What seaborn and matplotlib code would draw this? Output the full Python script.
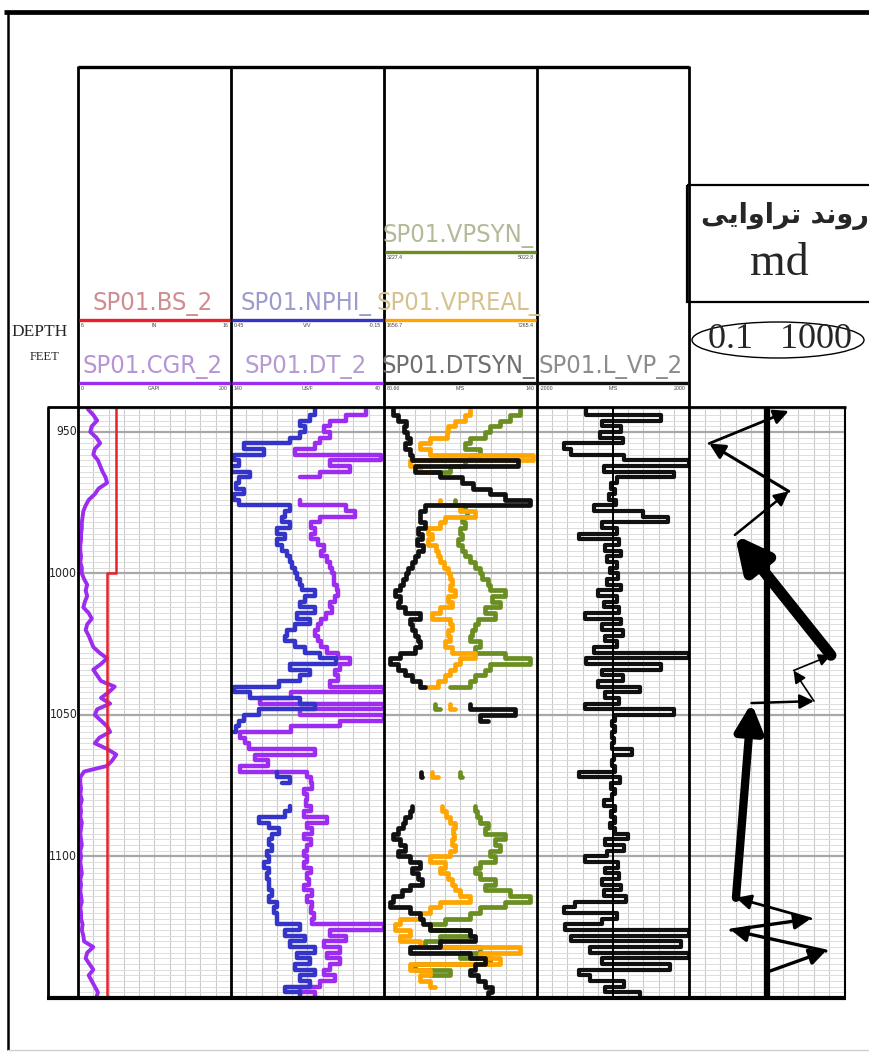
import os
import numpy as np
import pandas as pd
import matplotlib
matplotlib.use("Agg")
import matplotlib.pyplot as plt
import seaborn as sns
from matplotlib.patches import Ellipse, Rectangle
from matplotlib import font_manager as fm

sns.set_style("white")
plt.rcParams['font.family'] = ['Liberation Sans', 'DejaVu Sans']

# ---------------- data ----------------
depth = np.arange(942, 1151, 2)          # sample depths, feet
nan = np.nan

cgr = [13, 20, 25, 18, 16, 24, 29, 22, 20, 26, 29, 32,
       36, 38, 27, 22, 14, 10, 7, 6, 5, 5, 4, 4,
       3, 3, 4, 3, 5, 5, 8, 12, 10, 12, 9, 7,
       14, 18, 12, 10, 14, 17, 20, 28, 38, 30, 20, 25,
       30, 48, 40, 30, 42, 25, 22, 30, 38, 42, 28, 22,
       38, 50, 45, 38, 8, 3, 3,
       4, 3, 5, 3, 4, 3, 5, 4, 3, 4, 5, 3, 4, 3, 4, 5, 3, 4, 3, 4, 5, 3, 4, 4, 6, 5, 7,
       8, 20, 12, 10, 15, 20, 14, 18, 22, 26, 24]

bs_depth = [941.2, 1000, 1000, 1150]
bs = [8.5, 8.5, 7.875, 7.875]

nphi = [0.12, 0.14, 0.18, 0.16, 0.18, 0.22, 0.40, 0.32, 0.44, 0.42, 0.45, 0.375,
        0.42, 0.43, 0.40, 0.44, 0.42, 0.22, 0.24, 0.25, 0.22, 0.27, 0.24, 0.27,
        0.25, 0.23, 0.22, 0.21, 0.20, 0.19, 0.18, 0.17, 0.12, 0.16, 0.18, 0.12,
        0.19, 0.14, 0.20, 0.23, 0.24, 0.20, 0.16, 0.10, 0.04, 0.22, 0.14, 0.18,
        0.26, 0.44, 0.375, 0.18, 0.12, 0.34, 0.40, 0.42, 0.43, 0.44, nan, nan,
        nan, nan, nan, nan, 0.27, 0.22, 0.25, nan, nan, nan, 0.22, 0.24,
        0.34, 0.30, 0.26, 0.29, 0.30, 0.29, 0.31, 0.30, 0.32, 0.30, 0.31, 0.30,
        0.30, 0.29, 0.30, 0.27, 0.28, 0.27, 0.27, 0.18, 0.24, 0.16, 0.22, 0.12,
        0.19, 0.14, 0.20, 0.12, 0.18, 0.14, 0.24, 0.18, 0.12]

dt = [52, 65, 75, 79, 75, 82, 85, 98, 42, 75, 62, 82,
      95, nan, nan, nan, 95, 65, 59, 82, 88, 85, 88, 83,
      79, 81, 77, 75, 74, 73, 73, 71, 70, 72, 75, 74,
      78, 81, 83, 85, 83, 81, 77, 70, 62, 69, 72, 70,
      75, 40, 101, 121, 40, 95, 40, 69, 101, 134, 131, 128,
      85, 124, 116, 134, 90, 88, 87, 92, 90, 91, 88, 92,
      77, 90, 87, 92, 88, 90, 92, 90, 92, 88, 90, 89,
      92, 87, 90, 87, 88, 86, 87, 40, 75, 65, 79, 69,
      77, 69, 75, 79, 72, 82, 95, 85, 82]

dtsyn = [84.2, 86.1, 89.2, 88.4, 89.6, 90.7, 88.8, 90.7, 91.5, 132.6, 92.7, 102.4,
         110.9, 115.2, 121.8, 127.6, 137.3, 96.6, 94.6, 94.6, 96.6, 93.8, 95.4, 93.5,
         95.8, 93.8, 92.7, 91.5, 90.0, 89.2, 88.0, 86.9, 84.9, 86.9, 86.1, 88.8,
         94.6, 90.7, 91.5, 92.7, 93.8, 94.6, 92.7, 86.9, 83.0, 86.1, 88.8, 91.5,
         94.6, 96.6, nan, nan, 114.0, 131.5, 118.0, 121.0, nan, nan, nan, nan,
         nan, nan, nan, nan, 95.0, 95.4, nan, nan, nan, nan, 91.5, 90.7,
         88.8, 88.0, 86.1, 84.2, 86.9, 88.8, 86.1, 90.7, 94.6, 91.5, 93.8, 95.4,
         90.7, 87.6, 84.2, 83.0, 90.7, 94.6, 95.8, 98.5, 114.0, 116.0, 102.4, 90.7,
         114.0, 119.8, 116.0, 114.0, 117.1, 119.8, 122.5, 121.0, 114.0]

vpreal = [4809, 4626, 4259, 4003, 3966, 3343, 2976, 3343, 7119, 2610, 2976, 3343,
          nan, nan, nan, nan, 3710, 4443, 4993, 3893, 3710, 3270, 3416, 3270,
          3563, 3636, 3710, 3856, 4003, 4076, 4150, 4076, 4259, 4003, 4150, 3710,
          3416, 4076, 4150, 4003, 4076, 3893, 4150, 4993, 4443, 4259, 4076, 3893,
          3636, 2976, nan, nan, 4076, 4259, nan, nan, nan, nan, nan, nan,
          nan, nan, nan, nan, 3416, 3636, nan, nan, nan, nan, 3783, 3930,
          4076, 4259, 4186, 4223, 4150, 4259, 4076, 3343, 3893, 3710, 4003, 4150,
          4259, 4443, 4809, 3710, 3343, 2976, 2243, 2060, 2610, 2243, 2976, 6642,
          5176, 5909, 2610, 3343, 2976, 3343, 3526, nan, nan]

vpsyn = [4823, 4706, 4589, 4471, 4413, 4237, 4178, 4354, 4237, 4178, 4002, 3767,
         nan, nan, nan, nan, 4061, 4178, 4201, 4143, 4178, 4119, 4143, 4096,
         4143, 4178, 4237, 4295, 4354, 4377, 4448, 4471, 4647, 4495, 4589, 4413,
         4530, 4330, 4295, 4260, 4237, 4354, 4295, 4647, 4941, 4471, 4413, 4295,
         4237, 4002, nan, nan, 3826, 3885, nan, nan, nan, nan, nan, nan,
         nan, nan, nan, nan, 4119, 4143, nan, nan, nan, nan, 4295, 4319,
         4354, 4448, 4413, 4647, 4530, 4589, 4471, 4530, 4354, 4295, 4354, 4530,
         4413, 4706, 4941, 4647, 4354, 4237, 3943, 3767, 4237, 3885, 3709, 4354,
         4119, 4471, 3591, 4002, 3767, nan, nan, nan, nan]

lvp = [-700, 1250, -300, 200, -350, 250, -1300, -1100, 300, 2000, -250, 1600,
       100, -50, 50, -100, 80, -500, 800, 1450, -300, 100, -900, 150,
       -200, 200, -150, 100, -80, 120, -150, 200, -400, 100, -250, 150,
       -750, 200, -300, 250, -200, 100, -500, 2000, -700, 1250, -300, 250,
       -400, 700, -200, 150, -750, 1600, 50, -30, 40, -20, 30, -20,
       500, 20, -30, 40, -900, 180, -60, 40, -30, -250, 60, -40,
       50, -80, 60, 400, -200, 300, -150, -750, 120, -200, 150, -300,
       200, -250, 350, -1000, -1300, 100, -300, -1250, 2000, -1100, 1800, -600,
       2000, -300, 1500, -900, -600, 300, -200, 700, 150]

# permeability trend (md) path points, top to bottom
perm_depth = [942.6, 954.1, 971.0, 986.4, 1028.9, 1034.3, 1045.1, 1045.8, 1114.6, 1122.0, 1126.0, 1133.4, 1140.9]
perm_md = [36, 0.33, 36, 1.5, 436, 48, 160, 4.0, 1.6, 132, 1.2, 322, 9.8]
perm_weight = [2.0, 2.2, 1.8, 8.0, 1.2, 1.2, 1.8, 6.0, 2.0, 2.4, 2.4, 2.4]
perm_ref = 10

depth_ticks = [950, 1000, 1050, 1100]

# header definitions: (track, name, color, text color, row y, scale labels)
headers = [
    (0, "SP01.BS_2", "#e8202a", "#cf8d92", 320, ("6", "IN", "16")),
    (0, "SP01.CGR_2", "#9b2cf0", "#b794d6", 383, ("0", "GAPI", "200")),
    (1, "SP01.NPHI_", "#3434c8", "#9c9ccc", 320, ("0.45", "V/V", "-0.15")),
    (1, "SP01.DT_2", "#9b2cf0", "#b59bd2", 383, ("140", "US/F", "40")),
    (2, "SP01.VPSYN_", "#6b8e23", "#b3ba98", 252, ("3227.4", "", "5022.8")),
    (2, "SP01.VPREAL_", "#ffa500", "#d6c28f", 320, ("1656.7", "", "7265.4")),
    (2, "SP01.DTSYN_", "#111111", "#6f6f6f", 383, ("80.66", "M/S", "140")),
    (3, "SP01.L_VP_2", "#111111", "#8c8c8c", 383, ("-2000", "M/S", "2000")),
]

# ---------------- fonts ----------------
narrow_file = None
for key in ('liberationsansnarrow-regular', 'dejavusanscondensed.', 'robotocondensed-regular'):
    for f in fm.fontManager.ttflist:
        if os.path.basename(f.fname).lower().startswith(key):
            narrow_file = f.fname
            break
    if narrow_file:
        break


def hfont(size):
    if narrow_file:
        return fm.FontProperties(fname=narrow_file, size=size)
    return fm.FontProperties(family=['Liberation Sans', 'DejaVu Sans'], size=size)


# ---------------- layout ----------------
W, H = 870, 1052
fig = plt.figure(figsize=(8.7, 10.52), dpi=100)
fig.patch.set_facecolor('white')
renderer = fig.canvas.get_renderer()


def rect(x0, y0, x1, y1):
    return [x0 / W, 1 - y1 / H, (x1 - x0) / W, (y1 - y0) / H]


TOP, BOT = 407, 998
track_x = [78, 231, 384, 537, 689, 845]
DMIN, DMAX = 941.2, 1150.0


def make_track(i):
    ax = fig.add_axes(rect(track_x[i], TOP, track_x[i + 1], BOT))
    ax.set_xlim(0, 10)
    ax.set_ylim(DMAX, DMIN)
    ax.set_xticks(np.arange(11))
    ax.set_yticks(depth_ticks)
    ax.set_yticks(np.arange(942, 1151, 2), minor=True)
    ax.tick_params(which='both', length=0, labelbottom=False, labelleft=False)
    ax.grid(True, which='major', axis='x', color='#cbcbcb', lw=0.8)
    ax.grid(True, which='minor', axis='y', color='#dddddd', lw=0.7)
    ax.grid(True, which='major', axis='y', color='#a8a8a8', lw=1.6)
    ax.set_axisbelow(True)
    for s in ax.spines.values():
        s.set_visible(False)
    return ax


def overlay(base, lo, hi, log=False):
    cax = base.twiny()
    if log:
        cax.set_xscale('log')
    cax.set_xlim(lo, hi)
    cax.axis('off')
    return cax


def draw_curve(base, values, lo, hi, color, lw=2.8, dep=None, steps=True):
    cax = overlay(base, lo, hi)
    df = pd.DataFrame({'depth': depth if dep is None else dep, 'value': values})
    df['seg'] = df['value'].isna().cumsum()
    df = df.dropna()
    kw = dict(drawstyle='steps-pre') if steps else {}
    sns.lineplot(data=df, x='value', y='depth', units='seg', estimator=None,
                 sort=False, orient='y', ax=cax, color=color, linewidth=lw,
                 legend=False, **kw)
    cax.set_xlim(lo, hi)
    cax.set_ylim(DMAX, DMIN)
    return cax


axes = [make_track(i) for i in range(5)]

# track 1
draw_curve(axes[0], cgr, 0, 200, "#9b2cf0", lw=2.8, steps=False)
draw_curve(axes[0], bs, 6, 16, "#e8202a", lw=1.8, dep=bs_depth, steps=False)
# track 2
draw_curve(axes[1], dt, 140, 40, "#9b2cf0", lw=3.2)
draw_curve(axes[1], nphi, 0.45, -0.15, "#3434c8", lw=3.2)
# track 3
draw_curve(axes[2], vpsyn, 3227.4, 5022.8, "#6b8e23", lw=3.4)
draw_curve(axes[2], vpreal, 1656.7, 7265.4, "#ffa500", lw=3.4)
draw_curve(axes[2], dtsyn, 80.66, 140, "#111111", lw=3.4)
# track 4
c4 = draw_curve(axes[3], lvp, -2000, 2000, "#111111", lw=3.0)
c4.axvline(0, color='black', lw=1.4)

# track 5: permeability trend
pax = overlay(axes[4], 0.1, 1000, log=True)
pax.set_ylim(DMAX, DMIN)
pax.axvline(perm_ref, color='black', lw=4.5)
for i in range(len(perm_md) - 1):
    w = perm_weight[i]
    pax.annotate('', xy=(perm_md[i], perm_depth[i]),
                 xytext=(perm_md[i + 1], perm_depth[i + 1]),
                 arrowprops=dict(arrowstyle='-|>', color='black', lw=w,
                                 mutation_scale=13 + 4.6 * w, shrinkA=0, shrinkB=0))

# depth labels
dlabels = []
for d in depth_ticks:
    t = axes[0].text(-0.005, d, str(d), transform=axes[0].get_yaxis_transform(),
                     ha='right', va='center', fontproperties=hfont(10.5), color='#222222')
    dlabels.append(t)
wd = dlabels[1].get_window_extent(renderer).width
for t in dlabels:
    t.set_fontsize(min(11.5, 10.5 * 28 / wd))

# ---------------- overlay: frames & headers ----------------
ov = fig.add_axes([0, 0, 1, 1])
ov.set_xlim(0, W)
ov.set_ylim(H, 0)
ov.axis('off')
ov.patch.set_alpha(0)

k = dict(color='black', solid_capstyle='butt')
ov.plot([4, 870], [12, 12], lw=3.4, **k)
ov.plot([8, 8], [11, 1050], lw=1.8, **k)
ov.plot([8, 870], [1050, 1050], lw=1.0, color='#cfcfcf')
ov.plot([78, 689], [67, 67], lw=2.4, **k)
for x in track_x[:5]:
    ov.plot([x, x], [66, BOT], lw=2.0, **k)
ov.plot([47, 846], [TOP, TOP], lw=2.0, **k)
ov.plot([48, 48], [TOP, BOT], lw=2.0, **k)
ov.plot([845, 845], [TOP, BOT], lw=1.5, **k)
ov.plot([47, 846], [BOT, BOT], lw=3.0, **k)

name_texts = []
for tr, name, lc, tc, ly, (sl, su, sr) in headers:
    x0, x1 = track_x[tr], track_x[tr + 1]
    ov.plot([x0 + 1, x1 - 1], [ly, ly], color=lc, lw=2.4, solid_capstyle='butt')
    t = ov.text((x0 + x1) / 2 - 2, ly - 4, name, color=tc, fontproperties=hfont(19),
                ha='center', va='bottom')
    name_texts.append(t)
    ov.text(x0 + 3, ly + 3, sl, fontsize=3.8, ha='left', va='top', color='#444444')
    ov.text((x0 + x1) / 2, ly + 3, su, fontsize=3.8, ha='center', va='top', color='#444444')
    ov.text(x1 - 3, ly + 3, sr, fontsize=3.8, ha='right', va='top', color='#444444')

# common header size: widest name spans its track (about 164 px)
widest = max(t.get_window_extent(renderer).width for t in name_texts)
hsize = min(21.0, 19 * 164 / widest)
for t in name_texts:
    t.set_fontsize(hsize)

serif = ['Liberation Serif', 'DejaVu Serif']
ov.text(40, 332, "DEPTH", family=serif, fontsize=12.5, ha='center', va='center')
ov.text(45, 357, "FEET", family=serif, fontsize=9, ha='center', va='center')

ov.add_patch(Rectangle((687, 185), 200, 117, fill=False, lw=1.6, ec='black'))
# Persian title (visual order, presentation forms)
ov.text(869, 216, "\uFBFD\uFBFE\uFE8D\uFEED\uFE8D\uFEAE\uFE97 \uFEAA\uFEE7\uFEED\uFEAD",
        family=['DejaVu Sans'], fontweight='bold', fontsize=19.5, ha='right', va='center')
ov.text(779, 264, "md", family=serif, fontsize=33, ha='center', va='center')
ov.add_patch(Ellipse((778, 340), 172, 36, fill=False, lw=1.0, ec='black'))
ov.text(780, 340, "0.1   1000", family=serif, fontsize=26, ha='center', va='center')

fig.savefig("out.png", dpi=100, facecolor='white')
